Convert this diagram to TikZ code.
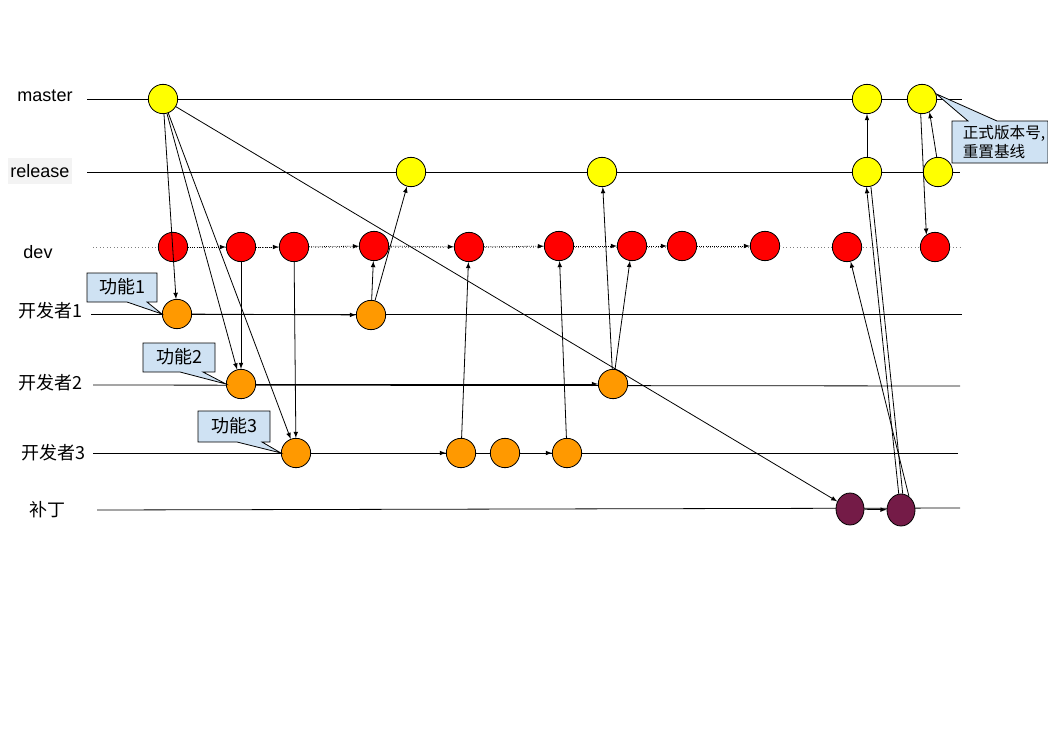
\documentclass[tikz,border=0pt]{standalone}
\usepackage{fontspec}
\setmainfont{Liberation Sans}
\newfontfamily\cjk{Noto Sans CJK SC}
\usetikzlibrary{shapes.geometric}
\definecolor{cyel}{HTML}{FFFF00}
\definecolor{cred}{HTML}{FF0000}
\definecolor{corg}{HTML}{FF9900}
\definecolor{cpur}{HTML}{741B47}
\definecolor{cnote}{HTML}{CFE2F3}
\definecolor{cgrey}{HTML}{F3F3F3}
\begin{document}
\begin{tikzpicture}[->,>=latex,x=0.75pt,y=-0.75pt,line width=0.6pt]
\tikzset{relc/.style={circle,draw,fill=cyel,minimum size=22pt,inner sep=0pt},
  devc/.style={circle,draw,fill=cred,minimum size=22pt,inner sep=0pt},
  feac/.style={circle,draw,fill=corg,minimum size=22pt,inner sep=0pt},
  fixc/.style={ellipse,draw,fill=cpur,minimum width=21pt,minimum height=24pt,inner sep=0pt},
  lbl/.style={font=\fontsize{13.5}{16}\selectfont},
  note/.style={-,draw,fill=cnote},
  dv/.style={densely dotted}}
\useasboundingbox (0,0) rectangle (1048,728);
% lane names
\node[lbl](lm) at (45,96) {master};
\node[lbl,fill=cgrey,inner xsep=1.5pt,minimum height=19.5pt](lr) at (40,171) {release};
\node[lbl](ld) at (38,252) {dev};
\node[lbl](l1) at (50,311) {\cjk 开发者1};
\node[lbl](l2) at (50,383) {\cjk 开发者2};
\node[lbl](l3) at (53,453) {\cjk 开发者3};
\node[lbl](lp) at (47,510) {\cjk 补丁};
% lanes
\coordinate(ms) at (87,99); \coordinate(me) at (962,99);
\coordinate(rs) at (87,172); \coordinate(re) at (960,172);
\coordinate(ds) at (93,247); \coordinate(de) at (960,247);
\coordinate(as) at (91,314); \coordinate(ae) at (962,314);
\coordinate(bs) at (93,385); \coordinate(be) at (960,386);
\coordinate(cs) at (93,453); \coordinate(ce) at (958,453);
\coordinate(ps) at (97,510); \coordinate(pe) at (960,508);
\draw[-] (ms) -- (me); \draw[-] (rs) -- (re);
\draw[-,dotted,gray] (ds) -- (de);
\draw[-] (as) -- (ae); \draw[-] (bs) -- (be);
\draw[-] (cs) -- (ce); \draw[-] (ps) -- (pe);
% commits
\node[relc](m1) at (163,99) {}; \node[relc](m2) at (867,99) {}; \node[relc](m3) at (922,99) {};
\node[relc](r1) at (411,172) {}; \node[relc](r2) at (602,172) {};
\node[relc](r3) at (867,172) {}; \node[relc](r4) at (938,172) {};
\node[devc](d1) at (173,247) {}; \node[devc](d2) at (241,247) {};
\node[devc](d3) at (294,247) {}; \node[devc](d4) at (374,246) {};
\node[devc](d5) at (469,247) {}; \node[devc](d6) at (559,246) {};
\node[devc](d7) at (632,246) {}; \node[devc](d8) at (682,246) {};
\node[devc](d9) at (765,246) {}; \node[devc](d10) at (847,247) {};
\node[devc](d11) at (935,247) {};
\node[feac](a1) at (177,314) {}; \node[feac](a2) at (371,315) {};
\node[feac](b1) at (241,384) {}; \node[feac](b2) at (613,384) {};
\node[feac](c1) at (296,453) {}; \node[feac](c2) at (461,453) {};
\node[feac](c3) at (505,453) {}; \node[feac](c4) at (567,453) {};
\node[fixc](p1) at (850,509) {}; \node[fixc](p2) at (901,510) {};
% dev line
\draw[dv] (d1) -- (d2); \draw[dv] (d2) -- (d3); \draw[dv] (d3) -- (d4);
\draw[dv] (d4) -- (d5); \draw[dv] (d5) -- (d6); \draw[dv] (d6) -- (d7);
\draw[dv] (d7) -- (d8); \draw[dv] (d8) -- (d9);
% branches
\draw (m1) -- (a1); \draw (m1) -- (b1); \draw (m1) -- (c1); \draw (m1) -- (p1);
\draw (d2) -- (b1); \draw (d3) -- (c1);
\draw (a1) -- (a2); \draw (a2) -- (d4); \draw (a2) -- (r1);
\draw (b1) -- (b2); \draw (b2) -- (r2); \draw (b2) -- (d7);
\draw (c1) -- (c2); \draw (c2) -- (d5); \draw[-] (c2) -- (c3);
\draw (c3) -- (c4); \draw (c4) -- (d6);
\draw (p1) -- (p2); \draw (p2.60) -- (d10);
\draw (p2.98) -- (r3.-92); \draw[-] (p2.84) -- (r3.-75);
\draw (r3) -- (m2); \draw (m3.-95) -- (d11.125); \draw (r4.95) -- (m3.-60);
% callouts
\draw[note] (87,273) -- (157,273) -- (157,302) -- (147,302) -- (a1.west) -- (127,302) -- (87,302) -- cycle;
\node[lbl](f1) at (122,287) {\cjk 功能1};
\draw[note] (143,343) -- (215,343) -- (215,372) -- (203,372) -- (b1.west) -- (180,372) -- (143,372) -- cycle;
\node[lbl](f2) at (179,357) {\cjk 功能2};
\draw[note] (198,411) -- (270,411) -- (270,442) -- (262,442) -- (c1.west) -- (237,442) -- (198,442) -- cycle;
\node[lbl](f3) at (234,426) {\cjk 功能3};
\draw[note] (952,121) -- (968,121) -- (m3.20) -- (997,121) -- (1048,121) -- (1048,163) -- (952,163) -- cycle;
\node[anchor=west,align=left,font=\fontsize{11.7}{14.3}\selectfont](f4) at (958,142) {\cjk 正式版本号,\\\cjk 重置基线};
\end{tikzpicture}
\end{document}
